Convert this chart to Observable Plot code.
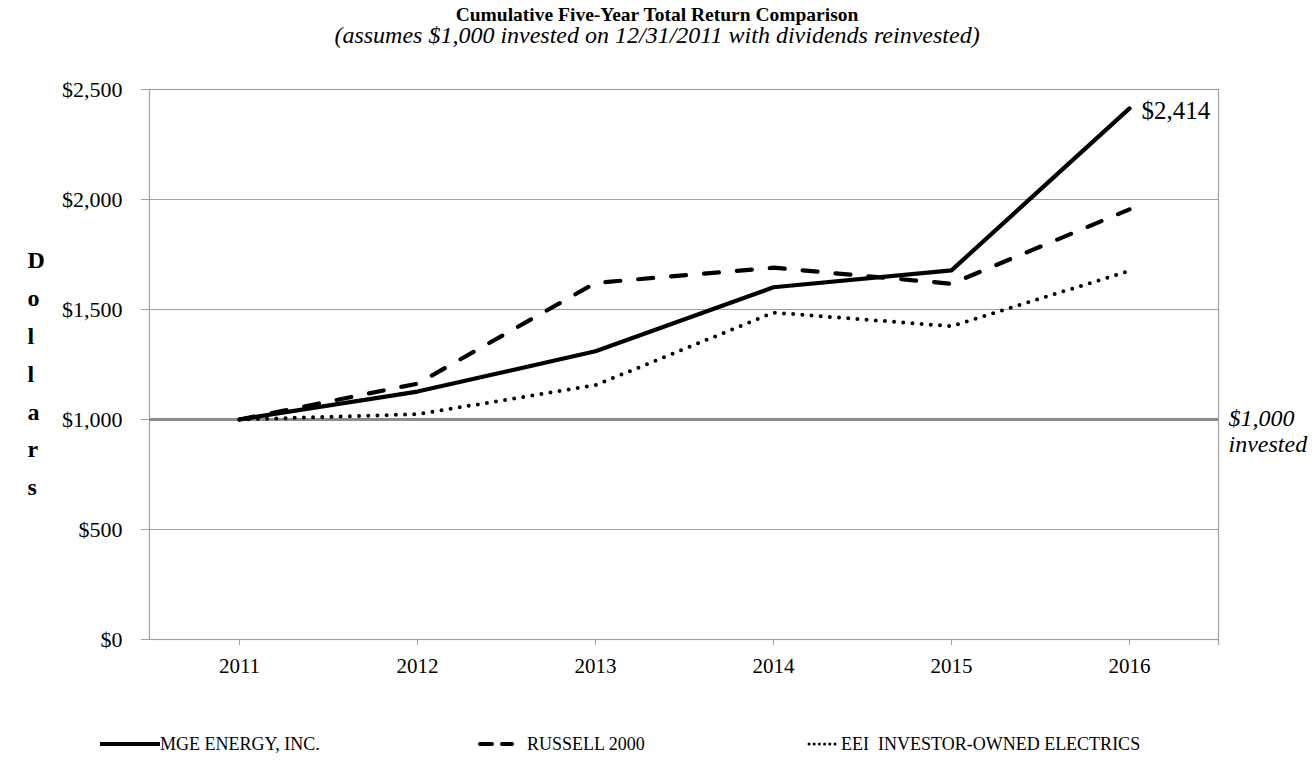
<!DOCTYPE html>
<html><head><meta charset="utf-8">
<script src="https://cdn.jsdelivr.net/npm/d3@7"></script>
<script src="https://cdn.jsdelivr.net/npm/@observablehq/plot@0.6"></script>
<style>
body{margin:0;background:#fff;}
#wrap{position:relative;width:1314px;height:766px;font-family:"Liberation Serif","Times New Roman",serif;color:#000;}
.legend{position:absolute;left:0;top:733px;width:1314px;height:22px;font-size:18px;}
.item{position:absolute;top:0;display:flex;align-items:center;height:22px;white-space:pre;}
.item svg{display:block;}
</style></head><body><div id="wrap"></div>
<script>
const years = ["2011", "2012", "2013", "2014", "2015", "2016"];
const seriesNames = ["MGE ENERGY, INC.", "RUSSELL 2000", "EEI  INVESTOR-OWNED ELECTRICS"];
const mge = [1000, 1127, 1310, 1601, 1678, 2414];
const russell = [1000, 1163, 1621, 1690, 1617, 1955];
const eei = [1000, 1024, 1156, 1486, 1424, 1676];
const yTicks = [0, 500, 1000, 1500, 2000, 2500];
const baseline = 1000;
const titleText = "Cumulative Five-Year Total Return Comparison";
const subtitleText = "(assumes $1,000 invested on 12/31/2011 with dividends reinvested)";
const yLabel = "Dollars";
const baselineLabel = "$1,000\ninvested";

const fmt = d3.format("$,");
const rows = (vals, s) => years.map((y, i) => ({year: y, value: vals[i], series: s}));
const mgeRows = rows(mge, seriesNames[0]);
const rusRows = rows(russell, seriesNames[1]);
const eeiRows = rows(eei, seriesNames[2]);

const grid = "#a0a0a0";
const chart = Plot.plot({
  width: 1314,
  height: 766,
  marginLeft: 149,
  marginRight: 96,
  marginTop: 89,
  marginBottom: 127,
  style: {fontFamily: '"Liberation Serif","Times New Roman",serif', fontSize: "20px", color: "#000", background: "#fff"},
  x: {type: "point", domain: years, padding: 0.5},
  y: {domain: [0, 2500]},
  marks: [
    Plot.ruleY(yTicks.filter(d => d !== baseline), {stroke: grid, strokeWidth: 1.2}),
    Plot.frame({stroke: grid, strokeWidth: 1.2}),
    Plot.ruleY([baseline], {stroke: "#8c8c8c", strokeWidth: 3}),
    Plot.axisY({ticks: yTicks, tickFormat: fmt, tickSize: 8, tickPadding: 19, stroke: grid, label: null, fontSize: 22}),
    Plot.axisX({tickSize: 6, tickPadding: 13, stroke: grid, label: null, fontSize: 21}),
    Plot.ruleX([years[years.length - 1]], {y1: 0, y2: 0, dx: 89, insetBottom: -6, stroke: grid, strokeWidth: 1.2}),
    Plot.line(eeiRows, {x: "year", y: "value", stroke: "#000", strokeWidth: 4, strokeDasharray: "0,9.2", strokeLinecap: "round"}),
    Plot.line(rusRows, {x: "year", y: "value", stroke: "#000", strokeWidth: 4.2, strokeDasharray: "15,18", strokeLinecap: "round"}),
    Plot.line(mgeRows, {x: "year", y: "value", stroke: "#000", strokeWidth: 4.2, strokeLinecap: "round", strokeLinejoin: "round"}),
    Plot.text(mgeRows.slice(-1), {x: "year", y: "value", text: d => fmt(d.value), dx: 12, dy: 3, textAnchor: "start", fontSize: 25}),
    Plot.text([baselineLabel], {y: [baseline], frameAnchor: "right", dx: 10, dy: -11, textAnchor: "start", lineAnchor: "top", fontStyle: "italic", fontSize: 24, lineHeight: 1.05}),
    Plot.text([yLabel.split("").join("\n")], {frameAnchor: "left", dx: -122, dy: 5, fontWeight: "bold", fontSize: 24, lineHeight: 1.58, lineAnchor: "middle"}),
    Plot.text([titleText], {frameAnchor: "top", dx: -27, dy: -75, fontWeight: "bold", fontSize: 19.5, lineAnchor: "middle"}),
    Plot.text([subtitleText], {frameAnchor: "top", dx: -27, dy: -54, fontStyle: "italic", fontSize: 24, lineAnchor: "middle"})
  ]
});
const wrap = document.getElementById("wrap");
wrap.appendChild(chart);

const legend = document.createElement("div");
legend.className = "legend";
const items = [
  {name: seriesNames[0], left: 100, w: 60, dash: null, sw: 4},
  {name: seriesNames[1], left: 478, w: 49, dash: "12,10", lineW: 34, sw: 4},
  {name: seriesNames[2], left: 807, w: 34, dash: "0,5.2", lineW: 29, sw: 3}
];
for (const it of items) {
  const d = document.createElement("div");
  d.className = "item";
  d.style.left = it.left + "px";
  const lw = it.lineW || it.w;
  const dashAttr = it.dash ? `stroke-dasharray="${it.dash}"` : "";
  const cap = it.dash ? "round" : "butt";
  d.innerHTML = `<svg width="${it.w}" height="22"><line x1="${it.dash ? 2 : 0}" x2="${lw}" y1="11" y2="11" stroke="#000" stroke-width="${it.sw}" stroke-linecap="${cap}" ${dashAttr}/></svg><span>${it.name}</span>`;
  legend.appendChild(d);
}
wrap.appendChild(legend);
</script></body></html>
